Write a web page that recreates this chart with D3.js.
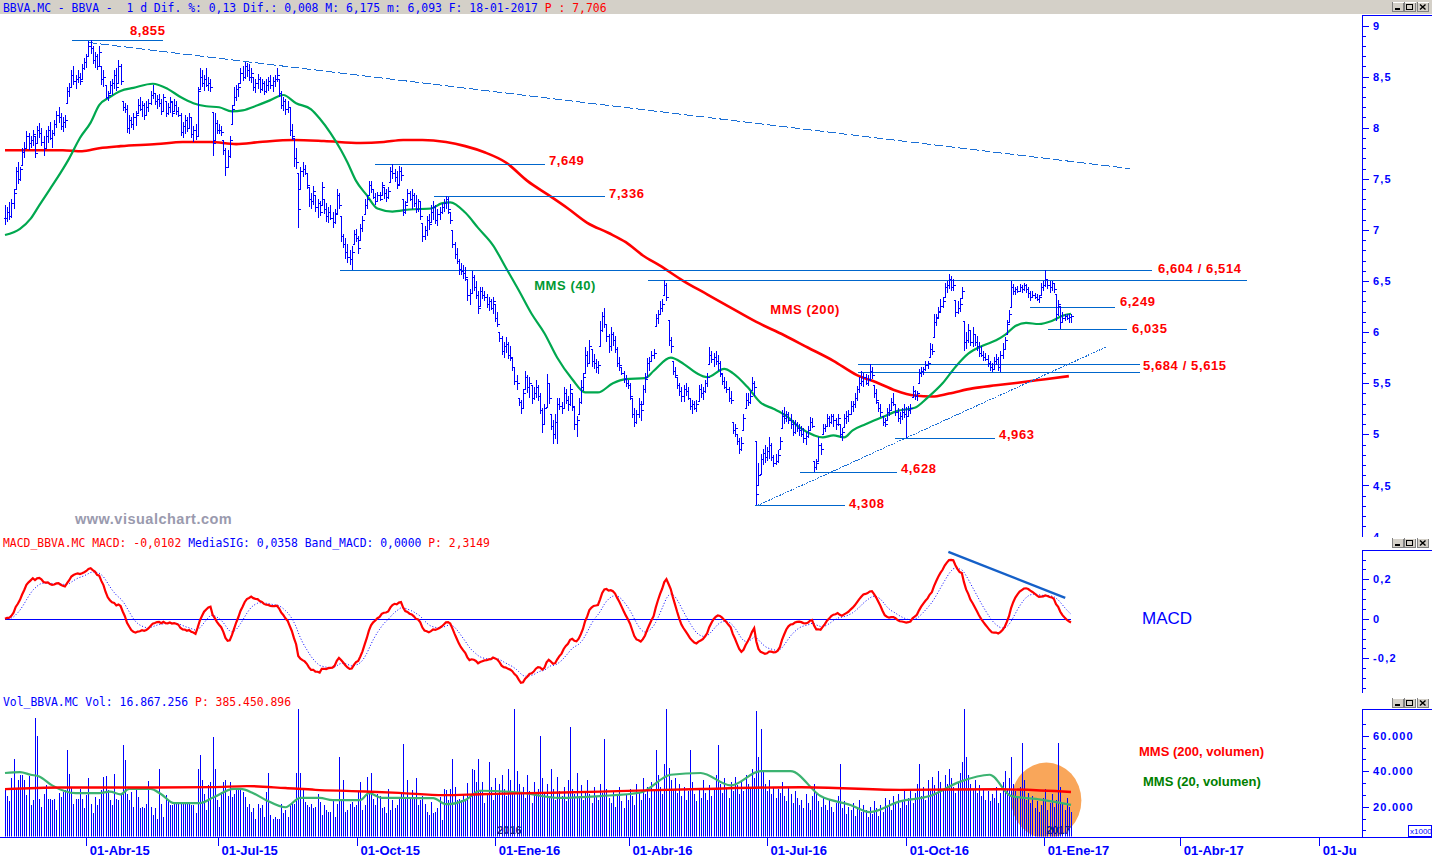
<!DOCTYPE html>
<html><head><meta charset="utf-8">
<script src="https://cdn.jsdelivr.net/npm/d3@7"></script>
<style>
html,body{margin:0;padding:0;background:#fff;}
svg{display:block;}
text{white-space:pre;}
</style></head><body>
<svg id="c" width="1432" height="857"></svg>
<script>
// ---------------- DATA ----------------
// daily bars, index 0 = first bar on the chart (early Feb 2015), last = 18-01-2017
const lows = [
7.05,7.08,7.10,7.12,7.20,7.40,7.45,7.48,7.64,7.70, 7.80,7.78,7.80,7.82,7.70,7.85,7.90,7.82,7.72,7.80,
7.85,7.88,7.80,7.92,8.00,8.05,7.98,7.96,8.00,8.24, 8.30,8.40,8.42,8.38,8.44,8.42,8.48,8.56,8.58,8.70,
8.72,8.62,8.58,8.56,8.60,8.42,8.40,8.28,8.26,8.34, 8.32,8.38,8.36,8.44,8.42,8.16,8.14,7.95,7.94,8.00,
7.98,8.02,8.14,8.16,8.10,8.08,8.12,8.15,8.22,8.28, 8.22,8.18,8.20,8.12,8.16,8.10,8.12,8.14,8.10,8.16,
8.12,8.10,7.92,7.90,7.94,7.96,8.00,7.90,7.86,7.88, 7.92,8.38,8.40,8.36,8.40,8.36,8.35,7.72,7.88,7.94,
7.94,7.92,7.73,7.53,7.62,7.70,8.04,8.22,8.26,8.30, 8.44,8.46,8.48,8.50,8.46,8.44,8.36,8.34,8.38,8.34,
8.36,8.32,8.34,8.36,8.38,8.35,8.40,8.45,8.30,8.18, 8.16,8.12,8.14,7.92,7.88,7.62,7.60,7.02,7.40,7.52,
7.54,7.40,7.22,7.20,7.24,7.18,7.12,7.14,7.24,7.16, 7.08,7.07,7.10,7.02,7.06,7.17,7.20,6.88,6.82,6.72,
6.68,6.66,6.604,6.86,6.88,6.76,6.90,6.98,7.16,7.20, 7.34,7.36,7.30,7.24,7.27,7.28,7.34,7.30,7.27,7.30,
7.47,7.50,7.47,7.40,7.45,7.48,7.14,7.16,7.27,7.28, 7.20,7.22,7.17,7.18,7.10,6.88,6.90,6.94,7.00,7.08,
7.10,7.06,7.04,7.10,7.16,7.18,7.20,7.16,7.06,6.82, 6.72,6.67,6.56,6.56,6.52,6.50,6.30,6.27,6.38,6.40,
6.32,6.18,6.26,6.32,6.30,6.24,6.21,6.22,6.18,6.10, 6.05,5.90,5.78,5.75,5.80,5.74,5.72,5.62,5.48,5.43,
5.28,5.20,5.26,5.44,5.40,5.36,5.30,5.34,5.36,5.33, 5.20,5.01,5.10,5.27,5.30,5.04,4.91,4.95,4.91,5.24,
5.20,5.26,5.30,5.23,5.28,5.23,5.04,4.97,5.20,5.30, 5.42,5.60,5.66,5.70,5.66,5.64,5.60,5.59,5.86,6.00,
6.04,5.90,5.80,5.82,5.86,5.80,5.66,5.62,5.58,5.50, 5.46,5.44,5.34,5.16,5.07,5.10,5.16,5.13,5.30,5.40,
5.56,5.62,5.72,5.74,6.06,6.08,6.18,6.20,6.36,6.30, 5.86,5.80,5.58,5.55,5.44,5.38,5.32,5.32,5.38,5.34,
5.24,5.20,5.24,5.22,5.33,5.36,5.34,5.40,5.46,5.69, 5.70,5.66,5.68,5.62,5.56,5.48,5.44,5.40,5.32,5.30,
5.00,4.97,4.90,4.81,4.84,5.04,5.26,5.28,5.30,5.43, 5.38,4.308,4.50,4.61,4.70,4.72,4.74,4.76,4.74,4.68,
4.70,4.72,4.86,5.06,5.10,5.12,5.10,5.05,4.98,5.00, 5.02,4.98,4.97,4.92,4.90,4.96,5.04,5.06,4.63,4.65,
4.74,4.80,5.00,5.02,5.08,5.07,5.10,5.07,5.04,5.08, 4.96,4.94,5.07,5.10,5.12,5.20,5.22,5.26,5.33,5.40,
5.47,5.46,5.48,5.47,5.52,5.54,5.36,5.30,5.22,5.17, 5.08,5.07,5.14,5.18,5.23,5.28,5.18,5.12,5.10,5.14,
5.16,4.963,5.17,5.20,5.37,5.34,5.33,5.50,5.56,5.58, 5.62,5.64,5.76,5.78,5.95,6.06,6.15,6.21,6.24,6.34,
6.38,6.42,6.40,6.40,6.15,6.18,6.20,6.33,5.82,5.84, 5.89,5.86,5.85,5.86,5.82,5.76,5.76,5.72,5.72,5.66,
5.62,5.615,5.64,5.68,5.62,5.615,5.74,5.84,5.98,6.10, 6.25,6.36,6.36,6.38,6.40,6.38,6.40,6.38,6.33,6.30,
6.33,6.32,6.30,6.29,6.36,6.40,6.44,6.42,6.38,6.40, 6.38,6.11,6.16,6.035,6.10,6.11,6.12,6.09,6.093
];
const highs = [
7.24,7.22,7.27,7.30,7.40,7.62,7.66,7.62,7.80,7.86, 7.97,7.95,7.92,7.98,7.92,8.02,8.05,8.00,7.92,7.98,
8.02,8.06,7.98,8.08,8.16,8.20,8.14,8.10,8.12,8.40, 8.44,8.56,8.60,8.52,8.56,8.54,8.62,8.68,8.72,8.85,
8.855,8.80,8.74,8.72,8.80,8.60,8.56,8.42,8.36,8.46, 8.48,8.56,8.58,8.66,8.62,8.26,8.24,8.22,8.12,8.10,
8.14,8.16,8.28,8.30,8.26,8.24,8.26,8.28,8.36,8.42, 8.34,8.32,8.33,8.28,8.33,8.26,8.24,8.30,8.25,8.28,
8.26,8.20,8.14,8.06,8.12,8.10,8.14,8.10,8.02,8.04, 8.40,8.58,8.56,8.52,8.58,8.50,8.48,8.15,8.14,8.08,
8.04,8.02,7.88,7.80,7.78,7.92,8.22,8.40,8.42,8.44, 8.58,8.60,8.64,8.63,8.62,8.58,8.50,8.48,8.53,8.50,
8.48,8.46,8.48,8.50,8.52,8.50,8.52,8.58,8.48,8.36, 8.30,8.28,8.26,8.20,8.04,7.90,7.80,7.56,7.62,7.66,
7.64,7.56,7.42,7.36,7.43,7.34,7.30,7.28,7.47,7.30, 7.26,7.22,7.24,7.18,7.20,7.40,7.36,7.14,6.96,6.92,
6.86,6.80,6.84,7.00,7.01,6.94,7.06,7.14,7.30,7.34, 7.48,7.48,7.40,7.36,7.37,7.37,7.47,7.42,7.40,7.42,
7.62,7.649,7.60,7.58,7.63,7.62,7.30,7.28,7.40,7.38, 7.40,7.36,7.34,7.30,7.28,7.07,7.04,7.14,7.16,7.24,
7.28,7.24,7.20,7.22,7.26,7.30,7.336,7.32,7.18,7.00, 6.88,6.82,6.72,6.68,6.66,6.64,6.52,6.42,6.60,6.56,
6.50,6.40,6.44,6.44,6.40,6.37,6.34,6.32,6.34,6.28, 6.20,6.00,5.96,5.90,5.95,5.90,5.86,5.75,5.66,5.58,
5.36,5.34,5.44,5.62,5.58,5.56,5.48,5.46,5.53,5.48, 5.40,5.26,5.30,5.59,5.50,5.20,5.14,5.20,5.36,5.36,
5.32,5.46,5.44,5.38,5.49,5.40,5.27,5.18,5.36,5.53, 5.60,5.85,5.82,5.92,5.84,5.79,5.74,5.72,6.11,6.20,
6.24,6.08,5.98,6.05,6.00,5.96,5.85,5.76,5.66,5.62, 5.58,5.53,5.50,5.36,5.26,5.24,5.36,5.33,5.48,5.60,
5.75,5.76,5.82,5.84,6.18,6.22,6.30,6.32,6.514,6.48, 6.12,5.95,5.72,5.66,5.56,5.50,5.46,5.48,5.50,5.46,
5.36,5.34,5.33,5.34,5.48,5.49,5.46,5.53,5.60,5.85, 5.82,5.80,5.82,5.78,5.72,5.59,5.56,5.52,5.46,5.42,
5.12,5.10,5.00,4.96,4.97,5.20,5.40,5.40,5.42,5.56, 5.52,4.94,4.72,4.81,4.86,4.90,4.88,4.97,4.92,4.80,
4.81,4.85,4.97,5.24,5.27,5.23,5.22,5.20,5.14,5.14, 5.12,5.10,5.08,5.06,5.02,5.08,5.17,5.16,4.74,4.76,
4.97,4.92,5.10,5.10,5.20,5.18,5.20,5.20,5.16,5.20, 5.10,5.06,5.20,5.23,5.24,5.33,5.33,5.40,5.47,5.56,
5.62,5.60,5.59,5.58,5.684,5.66,5.48,5.44,5.32,5.30, 5.18,5.16,5.26,5.30,5.36,5.40,5.30,5.26,5.22,5.26,
5.30,5.27,5.28,5.30,5.47,5.43,5.42,5.64,5.66,5.66, 5.72,5.72,5.89,5.88,6.18,6.18,6.25,6.32,6.34,6.48,
6.50,6.57,6.55,6.52,6.31,6.30,6.33,6.44,6.11,6.00, 6.08,6.02,6.05,5.98,5.96,5.90,5.86,5.82,5.80,5.78,
5.72,5.70,5.76,5.79,5.76,5.82,5.89,5.95,6.12,6.22, 6.50,6.47,6.44,6.45,6.47,6.46,6.48,6.47,6.44,6.40,
6.40,6.38,6.37,6.36,6.48,6.50,6.604,6.52,6.50,6.50, 6.48,6.37,6.31,6.26,6.20,6.18,6.18,6.175,6.175
];
const closes = [
7.12,7.18,7.14,7.26,7.36,7.58,7.50,7.60,7.76,7.80, 7.92,7.85,7.88,7.94,7.75,7.98,7.95,7.86,7.80,7.92,
7.98,7.90,7.95,8.04,8.12,8.10,8.02,8.06,8.08,8.36, 8.40,8.52,8.46,8.48,8.50,8.46,8.58,8.64,8.70,8.80,
8.78,8.66,8.70,8.60,8.74,8.48,8.50,8.30,8.32,8.42, 8.44,8.52,8.40,8.60,8.46,8.20,8.18,8.00,8.08,8.04,
8.10,8.12,8.22,8.18,8.22,8.12,8.20,8.24,8.32,8.34, 8.26,8.28,8.24,8.16,8.30,8.14,8.20,8.26,8.14,8.22,
8.16,8.12,7.96,8.02,8.08,8.00,8.10,7.94,7.98,7.92, 8.36,8.50,8.44,8.48,8.42,8.44,8.40,7.85,8.05,7.98,
7.98,7.96,7.78,7.62,7.72,7.88,8.18,8.30,8.38,8.40, 8.54,8.50,8.60,8.56,8.50,8.54,8.40,8.44,8.48,8.38,
8.44,8.36,8.42,8.46,8.42,8.46,8.48,8.52,8.34,8.22, 8.26,8.18,8.20,7.98,7.92,7.70,7.66,7.20,7.58,7.60,
7.56,7.44,7.30,7.28,7.38,7.22,7.26,7.18,7.42,7.20, 7.14,7.18,7.12,7.08,7.16,7.34,7.24,6.94,6.86,6.78,
6.74,6.72,6.78,6.96,6.92,6.82,7.02,7.10,7.24,7.30, 7.44,7.40,7.32,7.28,7.34,7.30,7.44,7.36,7.32,7.38,
7.58,7.56,7.52,7.44,7.58,7.54,7.18,7.24,7.36,7.30, 7.34,7.26,7.20,7.28,7.14,6.94,7.00,7.10,7.06,7.18,
7.22,7.10,7.16,7.18,7.22,7.26,7.30,7.20,7.10,6.86, 6.76,6.70,6.62,6.60,6.58,6.54,6.36,6.38,6.54,6.44,
6.36,6.24,6.40,6.36,6.34,6.28,6.30,6.24,6.30,6.14, 6.08,5.94,5.82,5.86,5.88,5.78,5.76,5.66,5.52,5.50,
5.32,5.26,5.40,5.56,5.46,5.50,5.36,5.40,5.46,5.38, 5.24,5.10,5.26,5.50,5.36,5.08,5.00,5.12,5.30,5.28,
5.26,5.40,5.34,5.30,5.44,5.28,5.10,5.14,5.32,5.46, 5.56,5.78,5.70,5.86,5.72,5.70,5.66,5.68,6.02,6.16,
6.08,5.96,5.86,5.98,5.92,5.84,5.70,5.68,5.60,5.54, 5.50,5.48,5.38,5.20,5.12,5.20,5.30,5.24,5.44,5.54,
5.70,5.72,5.78,5.80,6.14,6.18,6.24,6.28,6.46,6.34, 5.92,5.86,5.62,5.58,5.48,5.42,5.38,5.44,5.42,5.36,
5.28,5.30,5.26,5.30,5.44,5.40,5.42,5.50,5.56,5.78, 5.74,5.76,5.72,5.70,5.60,5.52,5.46,5.44,5.36,5.34,
5.04,5.06,4.94,4.86,4.92,5.16,5.34,5.32,5.38,5.50, 5.46,4.42,4.60,4.76,4.82,4.78,4.84,4.90,4.78,4.72,
4.74,4.80,4.94,5.18,5.16,5.20,5.14,5.10,5.02,5.10, 5.06,5.04,5.00,4.96,4.98,5.04,5.12,5.08,4.68,4.72,
4.90,4.86,5.06,5.08,5.16,5.12,5.18,5.14,5.10,5.16, 5.00,5.02,5.16,5.18,5.20,5.28,5.30,5.36,5.44,5.50,
5.52,5.56,5.50,5.54,5.62,5.58,5.40,5.34,5.26,5.22, 5.12,5.10,5.22,5.24,5.32,5.30,5.22,5.16,5.18,5.22,
5.20,5.18,5.24,5.26,5.42,5.38,5.40,5.60,5.62,5.64, 5.68,5.70,5.84,5.82,6.10,6.14,6.20,6.26,6.30,6.44,
6.46,6.52,6.44,6.46,6.20,6.24,6.28,6.40,5.90,5.92, 6.02,5.90,5.98,5.90,5.86,5.80,5.78,5.76,5.74,5.70,
5.66,5.64,5.72,5.74,5.66,5.78,5.84,5.92,6.08,6.18, 6.44,6.40,6.42,6.40,6.44,6.42,6.46,6.42,6.38,6.34,
6.36,6.34,6.32,6.34,6.44,6.46,6.52,6.46,6.44,6.48, 6.42,6.18,6.28,6.10,6.14,6.16,6.14,6.15,6.158
];
// volume, thousands of shares
const volumes = [
30.8,25.9,23.1,36.4,47.1,29.9,34.9,37.7,37.7,34.9, 26.5,37.2,20.8,23.7,69.7,59.7,24.2,19.9,27.0,32.1,
24.2,24.2,23.7,24.6,18.0,27.8,25.2,28.4,29.3,51.8, 38.3,31.2,21.8,24.6,24.6,30.2,24.6,19.0,26.5,36.1,
21.8,16.2,25.5,20.8,24.6,29.3,36.8,37.2,29.3,23.7, 20.8,38.3,24.6,23.7,27.4,54.6,46.2,27.4,23.7,28.4,
19.9,31.2,25.5,19.0,19.9,19.0,21.8,34.6,19.9,15.2, 19.0,13.3,41.5,21.8,14.3,26.5,23.7,20.8,20.8,
21.8,22.7,22.7,21.8,22.7,21.8,21.8,21.8,20.8,20.8, 16.2,41.1,49.0,35.3,27.4,18.0,32.1,34.0,59.3,41.5,
23.7,19.9,28.4,34.0,35.3,25.9,34.0,25.2,27.4,29.3, 29.3,29.7,28.4,25.5,19.9,21.8,17.1,19.0,13.3,
21.8,19.0,20.8,14.3,28.4,38.8,15.2,12.8,14.3,13.3, 13.3,21.8,16.2,18.0,14.3,20.8,21.8,21.8,38.8,75.0,
38.8,29.3,22.7,20.8,19.9,21.8,19.0,19.9,27.4,22.7, 15.2,20.8,18.0,17.1,17.1,23.7,14.3,21.8,48.1,23.7,
34.9,17.1,18.0,21.4,22.7,19.9,20.8,28.4,34.0, 18.0,20.8,36.8,27.4,39.0,24.6,20.8,27.4,25.9,
19.0,19.9,16.5,30.2,18.0,23.7,19.0,20.8,25.5,27.4, 55.6,24.6,34.9,24.6,29.3,25.5,35.9,20.8,23.7,25.9,
21.8,17.1,15.2,22.7,16.2,17.1,19.0,25.5, 12.4,30.2,29.3,23.7,30.2,47.1,31.2,23.7,24.6,23.7,
27.4,24.6,33.1,27.4,41.1,40.6,34.0,47.1,
29,34,22,27,45,31,24,36,28,33, 38,30,26,41,35,29,75,40,33,27, 31,25,38,29,22,34,27,30,60,36,
28,33,25,41,30,24,37,29,26,31, 23,35,65,30,27,39,26,32,24,28, 35,27,22,31,26,24,33,28,58,30,
25,22,29,20,26,31,23,19,27,24, 30,26,21,33,28,24,36,27,31,25, 34,29,52,38,31,27,44,76,42,35,
30,36,28,33,26,31,24,29,52,34, 27,23,30,25,35,28,24,32,26,30, 38,55,33,28,36,30,25,34,29,37,
32,27,35,29,38,33,30,41,36,74, 48,64,40,33,29,35,27,31,25,30, 28,34,26,23,31,27,22,29,25,21,
24,19,27,22,18,26,33,28,23,20, 25,21,18,24,20,17,22,26,44,19, 23,16,20,18,22,15,19,24,17,21,
18,14,20,16,23,19,15,21,17,25, 20,24,18,26,22,27,19,23,29,21, 25,30,22,28,33,44,26,31,24,35,
29,37,32,27,40,34,30,38,33,41, 36,31,28,34,39,45,75,48,38,33, 30,35,28,32,26,30,24,29,23,27,
25,31,22,28,34,40,30,36,48,33, 29,26,31,56,35,24,28,22,26,19, 23,17,21,25,30,18,22,27,20,24,
56,31,22,18,25,20,17
];
// moving averages: [bar, value]
const mms40 = [[0,6.95],[7,7.01],[12,7.11],[16,7.24],[21,7.40],[26,7.56],[30,7.70],[35,7.90],[40,8.05],[44,8.22],[49,8.30],[54,8.36],[60,8.39],[69,8.43],[76,8.38],[82,8.30],[88,8.24],[94,8.21],[100,8.20],[106,8.16],[111,8.17],[118,8.22],[124,8.27],[130,8.32],[136,8.24],[143,8.18],[147,8.09],[152,7.95],[157,7.78],[160,7.66],[164,7.48],[169,7.34],[174,7.21],[181,7.18],[189,7.20],[199,7.21],[204,7.26],[208,7.27],[215,7.17],[221,7.02],[228,6.85],[234,6.63],[240,6.41],[246,6.18],[252,5.99],[258,5.75],[265,5.54],[271,5.41],[277,5.41],[284,5.50],[290,5.54],[299,5.55],[303,5.62],[311,5.75],[317,5.69],[323,5.60],[328,5.56],[336,5.64],[340,5.60],[347,5.46],[353,5.31],[359,5.25],[365,5.18],[371,5.07],[378,4.99],[382,4.97],[387,4.99],[392,4.97],[396,5.04],[402,5.10],[410,5.17],[417,5.23],[425,5.26],[431,5.36],[438,5.50],[444,5.66],[450,5.79],[457,5.87],[463,5.92],[467,5.97],[472,6.06],[477,6.09],[483,6.08],[489,6.11],[494,6.16],[498,6.18]];
const mms200 = [[0,7.78],[27,7.78],[36,7.77],[44,7.80],[54,7.82],[71,7.84],[83,7.86],[96,7.86],[108,7.84],[119,7.86],[135,7.88],[149,7.87],[166,7.85],[177,7.86],[186,7.88],[195,7.88],[206,7.86],[215,7.82],[224,7.76],[234,7.66],[244,7.48],[254,7.34],[263,7.21],[272,7.07],[282,6.97],[290,6.88],[298,6.75],[306,6.65],[317,6.50],[328,6.37],[339,6.24],[351,6.10],[364,5.97],[375,5.85],[387,5.72],[398,5.58],[407,5.51],[416,5.43],[425,5.38],[433,5.37],[441,5.40],[452,5.45],[463,5.48],[475,5.51],[486,5.54],[497,5.57]];
const volMMS200 = [[0,29.9],[26,30.8],[70,30.8],[97,31.0],[113,31.6],[131,30.5],[145,29.5],[162,28.8],[184,27.8],[205,26.5],[222,27.0],[240,27.5],[278,28.5],[325,30.0],[372,31.0],[418,29.5],[465,29.8],[498,28.3]];
const volMMS20 = [[0,39],[7,39.5],[12,38],[16,37],[22,32],[33,27.6],[44,27.6],[49,28.5],[54,27],[58,30],[68,30],[73,27],[79,22],[91,22],[97,25],[107,30],[110,30],[116,27.6],[122,23.7],[131,19.7],[138,25],[147,25],[153,23.7],[166,23.7],[170,27.6],[176,25],[184,25],[193,24.8],[200,24.8],[206,21.4],[215,23.7],[222,29],[240,28],[259,25],[278,26],[297,28],[311,38],[325,39],[339,32],[353,40],[367,40],[381,26],[395,21],[404,17],[418,23],[432,26],[446,34],[460,38],[470,26],[484,24],[498,21]];
// axis ticks
const priceTicks = [4,4.5,5,5.5,6,6.5,7,7.5,8,8.5,9];
const macdTicks = [-0.2,0,0.2];
const volTicks = [20,40,60];
const tickBars = [38,99.5,164.5,229,291.5,356,421,485.5,549,614];
const tickLabels = ["01-Abr-15","01-Jul-15","01-Oct-15","01-Ene-16","01-Abr-16","01-Jul-16","01-Oct-16","01-Ene-17","01-Abr-17","01-Ju"];
// support / resistance levels: value, first bar, last bar
const levelValues = [8.855,7.649,7.336,6.604,6.514,6.249,6.035,5.684,5.615,4.963,4.628,4.308];
const levelFrom   = [31.3,172.9,200.5,156.5,300.5,479,487.4,398.6,398.6,415.9,371.5,350.5];
const levelTo     = [73.8,252.3,280.4,536,580.4,518.7,524.3,530.4,530.4,462.6,416.8,392.5];
const levelLabels = [["8,855",58.4,8.95],["7,649",254.1,7.68],["7,336",282.2,7.356],["6,604 / 6,514",538.6,6.62],["6,249",520.9,6.30],["6,035",526.5,6.035],["5,684 / 5,615",531.6,5.675],["4,963",464.4,4.998],["4,628",418.6,4.665],["4,308",394.3,4.323]];
const trendDown = [[38.8,8.834],[525.7,7.60]];
const trendUp = [[351.4,4.303],[515,5.86]];
const macdTrend = [[440.7,0.339],[495.3,0.106]];

// ---------------- CHART ----------------
const svg = d3.select("#c");
const W = 1432, AX = 1362;
const BLUE = "#0000ff", RED = "#ff0000";
const mono = "'DejaVu Sans Mono', monospace";
const sans = "'Liberation Sans', Arial, sans-serif";

const x = d3.scaleLinear().domain([0, 498]).range([5, 1071]);
const yP = d3.scaleLinear().domain([4, 9]).range([536.6, 25.5]);
const yM = d3.scaleLinear().domain([-0.2, 0.2]).range([658.3, 579.3]);
const yV = d3.scaleLinear().domain([0, 60]).range([842.2, 735.7]);

svg.append("rect").attr("width", W).attr("height", 857).attr("fill", "#fff");

const defs = svg.append("defs");
function clip(id, y0, y1, x1) {
  defs.append("clipPath").attr("id", id).append("rect").attr("x", 0).attr("y", y0).attr("width", x1).attr("height", y1 - y0);
}
clip("cp", 15, 537, AX);
clip("cm", 550, 693, AX);
clip("cv", 709, 836.5, AX);
clip("cpa", 15, 537, W);
clip("cv2", 709, 837, W);

// title bar
svg.append("rect").attr("x", 0).attr("y", 0).attr("width", W).attr("height", 14).attr("fill", "#d4d0c8");
function header(y, parts) {
  const t = svg.append("text").attr("x", 3).attr("y", y).attr("font-family", mono).attr("font-size", 11.4)
    .attr("dominant-baseline", "central");
  parts.forEach(p => t.append("tspan").attr("fill", p[1]).text(p[0]));
}
header(7.5, [["BBVA.MC - BBVA -  1 d Dif. %: 0,13 Dif.: 0,008 M: 6,175 m: 6,093 F: 18-01-2017 ", BLUE], ["P : 7,706", RED]]);
header(542.5, [["MACD_BBVA.MC MACD: -0,0102 ", RED], ["MediaSIG: 0,0358 ", BLUE], ["Band_MACD: 0,0000 ", BLUE], ["P: 2,3149", RED]]);
header(701.5, [["Vol_BBVA.MC Vol: 16.867.256 ", BLUE], ["P: 385.450.896", RED]]);

// window buttons
function buttons(y) {
  const g = svg.append("g").attr("shape-rendering", "crispEdges");
  [1392, 1404, 1417].forEach((bx, k) => {
    g.append("rect").attr("x", bx + 0.5).attr("y", y + 0.5).attr("width", 11).attr("height", 9).attr("fill", "#d4d0c8").attr("stroke", "#808080");
    g.append("line").attr("x1", bx + 0.5).attr("x2", bx + 11.5).attr("y1", y + 0.5).attr("y2", y + 0.5).attr("stroke", "#fff");
    if (k === 0) g.append("rect").attr("x", bx + 3).attr("y", y + 6).attr("width", 5).attr("height", 2).attr("fill", "#000");
    if (k === 1) g.append("rect").attr("x", bx + 2.5).attr("y", y + 2.5).attr("width", 6).attr("height", 5).attr("fill", "none").attr("stroke", "#000");
    if (k === 2) g.append("path").attr("d", `M${bx + 3},${y + 2.5}L${bx + 8.5},${y + 7.5}M${bx + 8.5},${y + 2.5}L${bx + 3},${y + 7.5}`).attr("stroke", "#000").attr("stroke-width", 1.4).attr("shape-rendering", "auto");
  });
}
buttons(2); buttons(538); buttons(698);

// ---------- price panel ----------
const pg = svg.append("g").attr("clip-path", "url(#cp)");
const lineP = d3.line().x(d => x(d[0])).y(d => yP(d[1])).curve(d3.curveMonotoneX);
pg.append("path").attr("d", lineP(mms200)).attr("fill", "none").attr("stroke", RED).attr("stroke-width", 2.6);
pg.append("path").attr("d", lineP(mms40)).attr("fill", "none").attr("stroke", "#00a84f").attr("stroke-width", 2.2);

const lv = pg.append("g").attr("stroke", "#0066cc").attr("stroke-width", 1).attr("shape-rendering", "crispEdges");
levelValues.forEach((v, k) => {
  const yy = Math.round(yP(v)) + 0.5;
  lv.append("line").attr("x1", x(levelFrom[k])).attr("x2", x(levelTo[k])).attr("y1", yy).attr("y2", yy);
});
[trendDown, trendUp].forEach((t, k) => {
  pg.append("line").attr("x1", x(t[0][0])).attr("y1", yP(t[0][1])).attr("x2", x(t[1][0])).attr("y2", yP(t[1][1]))
    .attr("stroke", "#1a6fd6").attr("stroke-width", 1).attr("shape-rendering", "crispEdges")
    .attr("stroke-dasharray", k ? "2,1" : "9,3");
});

// OHLC bars
const bg = pg.append("g").attr("stroke", BLUE).attr("stroke-width", 1).attr("shape-rendering", "crispEdges").attr("fill", "none");
bg.selectAll("path").data(d3.range(closes.length)).join("path").attr("d", i => {
  const px = Math.round(x(i)) + 0.5;
  const o = Math.max(lows[i], Math.min(highs[i], i ? closes[i - 1] : closes[i]));
  const yo = Math.round(yP(o)) + 0.5, yc = Math.round(yP(closes[i])) + 0.5;
  return `M${px},${Math.round(yP(highs[i]))}V${Math.round(yP(lows[i]))}M${px - 2},${yo}H${px}M${px},${yc}H${px + 2}`;
});

levelLabels.forEach(l => {
  pg.append("text").attr("x", x(l[1])).attr("y", yP(l[2])).text(l[0])
    .attr("fill", RED).attr("font-family", sans).attr("font-weight", "bold").attr("font-size", 13)
    .attr("letter-spacing", 0.6).attr("dominant-baseline", "central");
});
pg.append("text").attr("x", x(247.2)).attr("y", yP(6.456)).text("MMS (40)").attr("fill", "#009933")
  .attr("font-family", sans).attr("font-weight", "bold").attr("font-size", 13).attr("letter-spacing", 0.6).attr("dominant-baseline", "central");
pg.append("text").attr("x", x(357.5)).attr("y", yP(6.22)).text("MMS (200)").attr("fill", RED)
  .attr("font-family", sans).attr("font-weight", "bold").attr("font-size", 13).attr("letter-spacing", 0.6).attr("dominant-baseline", "central");
pg.append("text").attr("x", 75).attr("y", 519).text("www.visualchart.com").attr("fill", "#9a9aae")
  .attr("font-family", sans).attr("font-weight", "bold").attr("font-size", 14.5).attr("letter-spacing", 0.5).attr("dominant-baseline", "central");

const fmtC = d => String(d).replace(".", ",");
function rightAxis(scale, ticks, minor, fmt, y0, y1, clipId) {
  const g = svg.append("g").attr("transform", `translate(${AX},0)`);
  if (clipId) g.attr("clip-path", `url(#${clipId})`);
  g.append("g").call(d3.axisRight(scale).tickValues(minor).tickSize(4).tickFormat(""))
    .call(a => a.select(".domain").remove());
  g.append("g").call(d3.axisRight(scale).tickValues(ticks).tickSize(7).tickFormat(fmt))
    .call(a => a.select(".domain").remove())
    .call(a => a.selectAll("text").attr("x", 11).attr("fill", BLUE).attr("font-family", sans)
      .attr("font-weight", "bold").attr("font-size", 11).attr("letter-spacing", 1.2));
  g.selectAll("line").attr("stroke", BLUE).attr("shape-rendering", "crispEdges");
  svg.append("line").attr("x1", AX + 0.5).attr("x2", AX + 0.5).attr("y1", y0).attr("y2", y1).attr("stroke", BLUE).attr("shape-rendering", "crispEdges");
  svg.append("line").attr("x1", AX).attr("x2", W).attr("y1", y0 + 0.5).attr("y2", y0 + 0.5).attr("stroke", BLUE).attr("shape-rendering", "crispEdges");
}
rightAxis(yP, priceTicks, d3.range(40, 91).map(d => d / 10), fmtC, 15, 537, "cpa");

// ---------- MACD panel (computed from the closes: EMA12 - EMA26, signal EMA9) ----------
function ema(arr, n) { const k = 2 / (n + 1); const out = []; arr.forEach((v, i) => out.push(i ? v * k + out[i - 1] * (1 - k) : v)); return out; }
const e12 = ema(closes, 12), e26 = ema(closes, 26);
const macd = closes.map((c, i) => e12[i] - e26[i]);
const signal = ema(macd, 9);
const mg = svg.append("g").attr("clip-path", "url(#cm)");
mg.append("line").attr("x1", x(0)).attr("x2", x(498)).attr("y1", Math.round(yM(0)) + 0.5).attr("y2", Math.round(yM(0)) + 0.5)
  .attr("stroke", BLUE).attr("stroke-width", 1).attr("shape-rendering", "crispEdges");
const lineM = d3.line().x((d, i) => x(i)).y(d => yM(d));
mg.append("path").attr("d", lineM(signal)).attr("fill", "none").attr("stroke", BLUE).attr("stroke-width", 1).attr("stroke-dasharray", "1,2");
mg.append("path").attr("d", lineM(macd)).attr("fill", "none").attr("stroke", RED).attr("stroke-width", 2.2);
mg.append("line").attr("x1", x(macdTrend[0][0])).attr("y1", yM(macdTrend[0][1])).attr("x2", x(macdTrend[1][0])).attr("y2", yM(macdTrend[1][1]))
  .attr("stroke", "#1560c8").attr("stroke-width", 2.5);
svg.append("text").attr("x", 1142).attr("y", 618).text("MACD").attr("fill", BLUE).attr("font-family", sans)
  .attr("font-size", 17).attr("dominant-baseline", "central");
rightAxis(yM, macdTicks, d3.range(-7, 7).map(d => d * 0.05), d => d === 0 ? "0" : d3.format(".1f")(d).replace(".", ",").replace("\u2212", "-"), 550, 693, null);

// ---------- Volume panel ----------
const vg = svg.append("g").attr("clip-path", "url(#cv)");
vg.append("ellipse").attr("cx", x(486.5)).attr("cy", yV(23.5)).attr("rx", 35).attr("ry", 38).attr("fill", "#f9a65a");
vg.append("g").attr("stroke", BLUE).attr("stroke-width", 1).attr("shape-rendering", "crispEdges")
  .selectAll("line").data(volumes).join("line")
  .attr("x1", (d, i) => Math.round(x(i)) + 0.5).attr("x2", (d, i) => Math.round(x(i)) + 0.5)
  .attr("y1", d => Math.round(yV(d))).attr("y2", 837);
const lineV = d3.line().x(d => x(d[0])).y(d => yV(d[1])).curve(d3.curveMonotoneX);
vg.append("path").attr("d", lineV(volMMS20)).attr("fill", "none").attr("stroke", "#3cb371").attr("stroke-width", 2.2);
vg.append("path").attr("d", lineV(volMMS200)).attr("fill", "none").attr("stroke", RED).attr("stroke-width", 2.4);
[["2016", 229], ["2017", 485.5]].forEach(t => {
  svg.append("text").attr("x", x(t[1]) + 2).attr("y", 834).text(t[0]).attr("fill", "#1a1a8c").attr("font-family", sans)
    .attr("font-weight", "bold").attr("font-size", 11);
});
svg.append("text").attr("x", 1139).attr("y", 751).text("MMS (200, volumen)").attr("fill", RED).attr("font-family", sans)
  .attr("font-weight", "bold").attr("font-size", 13).attr("dominant-baseline", "central");
svg.append("text").attr("x", 1143).attr("y", 781).text("MMS (20, volumen)").attr("fill", "#008000").attr("font-family", sans)
  .attr("font-weight", "bold").attr("font-size", 13).attr("dominant-baseline", "central");
rightAxis(yV, volTicks, d3.range(1, 11).map(d => d * 20 / 3), d => d3.format(",")(d * 1000).replace(/,/g, "."), 709, 837, "cv2");
svg.append("rect").attr("x", 1408.5).attr("y", 825.5).attr("width", 23).attr("height", 11).attr("fill", "#fff").attr("stroke", BLUE);
svg.append("text").attr("x", 1410).attr("y", 831).text("x1000").attr("fill", BLUE).attr("font-family", sans).attr("font-size", 8).attr("dominant-baseline", "central");

// ---------- bottom time axis ----------
const xa = svg.append("g").attr("transform", "translate(0,837)")
  .call(d3.axisBottom(x).tickValues(tickBars).tickSize(9).tickFormat((d, i) => tickLabels[i]));
xa.select(".domain").remove();
xa.selectAll("line").attr("stroke", BLUE).attr("shape-rendering", "crispEdges");
xa.selectAll("text").attr("text-anchor", "start").attr("x", 3).attr("y", 9).attr("fill", BLUE)
  .attr("font-family", sans).attr("font-weight", "bold").attr("font-size", 13);
svg.append("line").attr("x1", 0).attr("x2", W).attr("y1", 837.5).attr("y2", 837.5).attr("stroke", BLUE).attr("shape-rendering", "crispEdges");
</script>
</body></html>
